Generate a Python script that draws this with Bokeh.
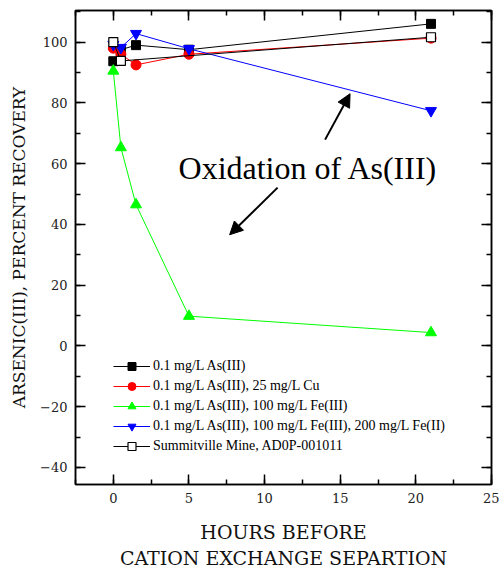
from bokeh.plotting import figure
from bokeh.models import (Range1d, LinearAxis, SingleIntervalTicker, Arrow, NormalHead,
                          Legend, LegendItem, Label)
from bokeh.embed import file_html
from bokeh.resources import INLINE

# ---- data ----
hours = [0, 0.5, 1.5, 5, 21]
as3 = [93.7, 97.5, 99.0, 97.5, 106.0]
as3_cu = [98.0, 96.0, 92.5, 96.0, 101.3]
as3_fe3 = [90.5, 65.3, 46.5, 9.8, 4.4]
as3_fe3_fe2 = [99.2, 98.2, 102.8, 97.8, 77.4]
summit_hours = [0, 0.5, 21]
summit = [100.0, 93.8, 101.6]

labels = ["0.1 mg/L As(III)",
          "0.1 mg/L As(III), 25 mg/L Cu",
          "0.1 mg/L As(III), 100 mg/L Fe(III)",
          "0.1 mg/L As(III), 100 mg/L Fe(III), 200 mg/L Fe(II)",
          "Summitville Mine, AD0P-001011"]

annotation_text = "Oxidation of As(III)"
arrow1 = (14.0, 67.9, 15.65, 83.0)
arrow2 = (10.86, 52.1, 7.69, 36.6)
text_pos = (4.31, 58.5)

FONT = "Liberation Serif"
AXIS_FONT = "DejaVu Serif"

p = figure(width=499, height=572, output_backend="svg", toolbar_location=None,
           x_range=Range1d(-2.5, 25), y_range=Range1d(-45.6, 110.4),
           x_axis_location=None, y_axis_location=None,
           min_border_left=75, min_border_right=8, min_border_top=10, min_border_bottom=88)
p.xgrid.visible = False
p.ygrid.visible = False
p.outline_line_color = "black"
p.outline_line_width = 1.5
p.background_fill_color = "white"
p.border_fill_color = "white"


def make_axis(interval, label=None, show_labels=True, label_size="17px"):
    ax = LinearAxis(ticker=SingleIntervalTicker(interval=interval, num_minor_ticks=2))
    ax.axis_line_color = "black"
    ax.axis_line_width = 1.5
    ax.major_tick_in = 10
    ax.major_tick_out = 0
    ax.minor_tick_in = 5
    ax.minor_tick_out = 0
    ax.major_tick_line_width = 1.5
    ax.minor_tick_line_width = 1.5
    ax.major_tick_line_color = "black"
    ax.minor_tick_line_color = "black"
    ax.major_label_text_font = AXIS_FONT
    ax.major_label_text_font_style = "normal"
    ax.major_label_text_font_size = "13px" if show_labels else "0px"
    ax.major_label_text_color = "#222222"
    ax.major_label_standoff = 8 if show_labels else 0
    if label is not None:
        ax.axis_label = label
        ax.axis_label_text_font = AXIS_FONT
        ax.axis_label_text_font_size = label_size
        ax.axis_label_text_font_style = "normal"
        ax.axis_label_text_color = "#111111"
    return ax


xb = make_axis(5, "HOURS BEFORE\nCATION EXCHANGE SEPARTION", label_size="19px")
xb.axis_label_standoff = 15
yl = make_axis(20, "ARSENIC(III), PERCENT RECOVERY", label_size="17px")
yl.axis_label_standoff = 8
xt = make_axis(5, show_labels=False)
yr = make_axis(20, show_labels=False)
p.add_layout(xb, "below")
p.add_layout(yl, "left")
p.add_layout(xt, "above")
p.add_layout(yr, "right")

r1l = p.line(hours, as3, line_color="black", line_width=1)
r1m = p.scatter(hours, as3, marker="square", size=9, fill_color="black", line_color="black")
r2l = p.line(hours, as3_cu, line_color="red", line_width=1)
r2m = p.scatter(hours, as3_cu, marker="circle", size=10, fill_color="red", line_color="red")
r3l = p.line(hours, as3_fe3, line_color="#00FF00", line_width=1)
r3m = p.scatter(hours, as3_fe3, marker="triangle", size=11, fill_color="#00FF00", line_color="#00FF00")
r4l = p.line(hours, as3_fe3_fe2, line_color="blue", line_width=1)
r4m = p.scatter(hours, as3_fe3_fe2, marker="inverted_triangle", size=11, fill_color="blue", line_color="blue")
r5l = p.line(summit_hours, summit, line_color="black", line_width=1)
r5m = p.scatter(summit_hours, summit, marker="square", size=9, fill_color="white", line_color="black", line_width=1.2)

legend = Legend(items=[
    LegendItem(label=labels[0], renderers=[r1l, r1m]),
    LegendItem(label=labels[1], renderers=[r2l, r2m]),
    LegendItem(label=labels[2], renderers=[r3l, r3m]),
    LegendItem(label=labels[3], renderers=[r4l, r4m]),
    LegendItem(label=labels[4], renderers=[r5l, r5m]),
], location=(38, 28), border_line_alpha=0, background_fill_alpha=0,
    padding=0, margin=0, spacing=0, glyph_width=37, glyph_height=20,
    label_height=20, label_standoff=3, label_text_font=FONT,
    label_text_font_size="14px", label_text_color="black")
p.add_layout(legend, "center")

for (x0, y0, x1, y1) in (arrow1, arrow2):
    p.add_layout(Arrow(end=NormalHead(size=13, fill_color="black", line_color="black"),
                       x_start=x0, y_start=y0, x_end=x1, y_end=y1,
                       line_color="black", line_width=2))

p.add_layout(Label(x=text_pos[0], y=text_pos[1], text=annotation_text,
                   text_font=FONT, text_font_size="32px", text_color="black",
                   text_baseline="alphabetic", text_align="left"))

open("out.html", "w").write(file_html(p, INLINE))
